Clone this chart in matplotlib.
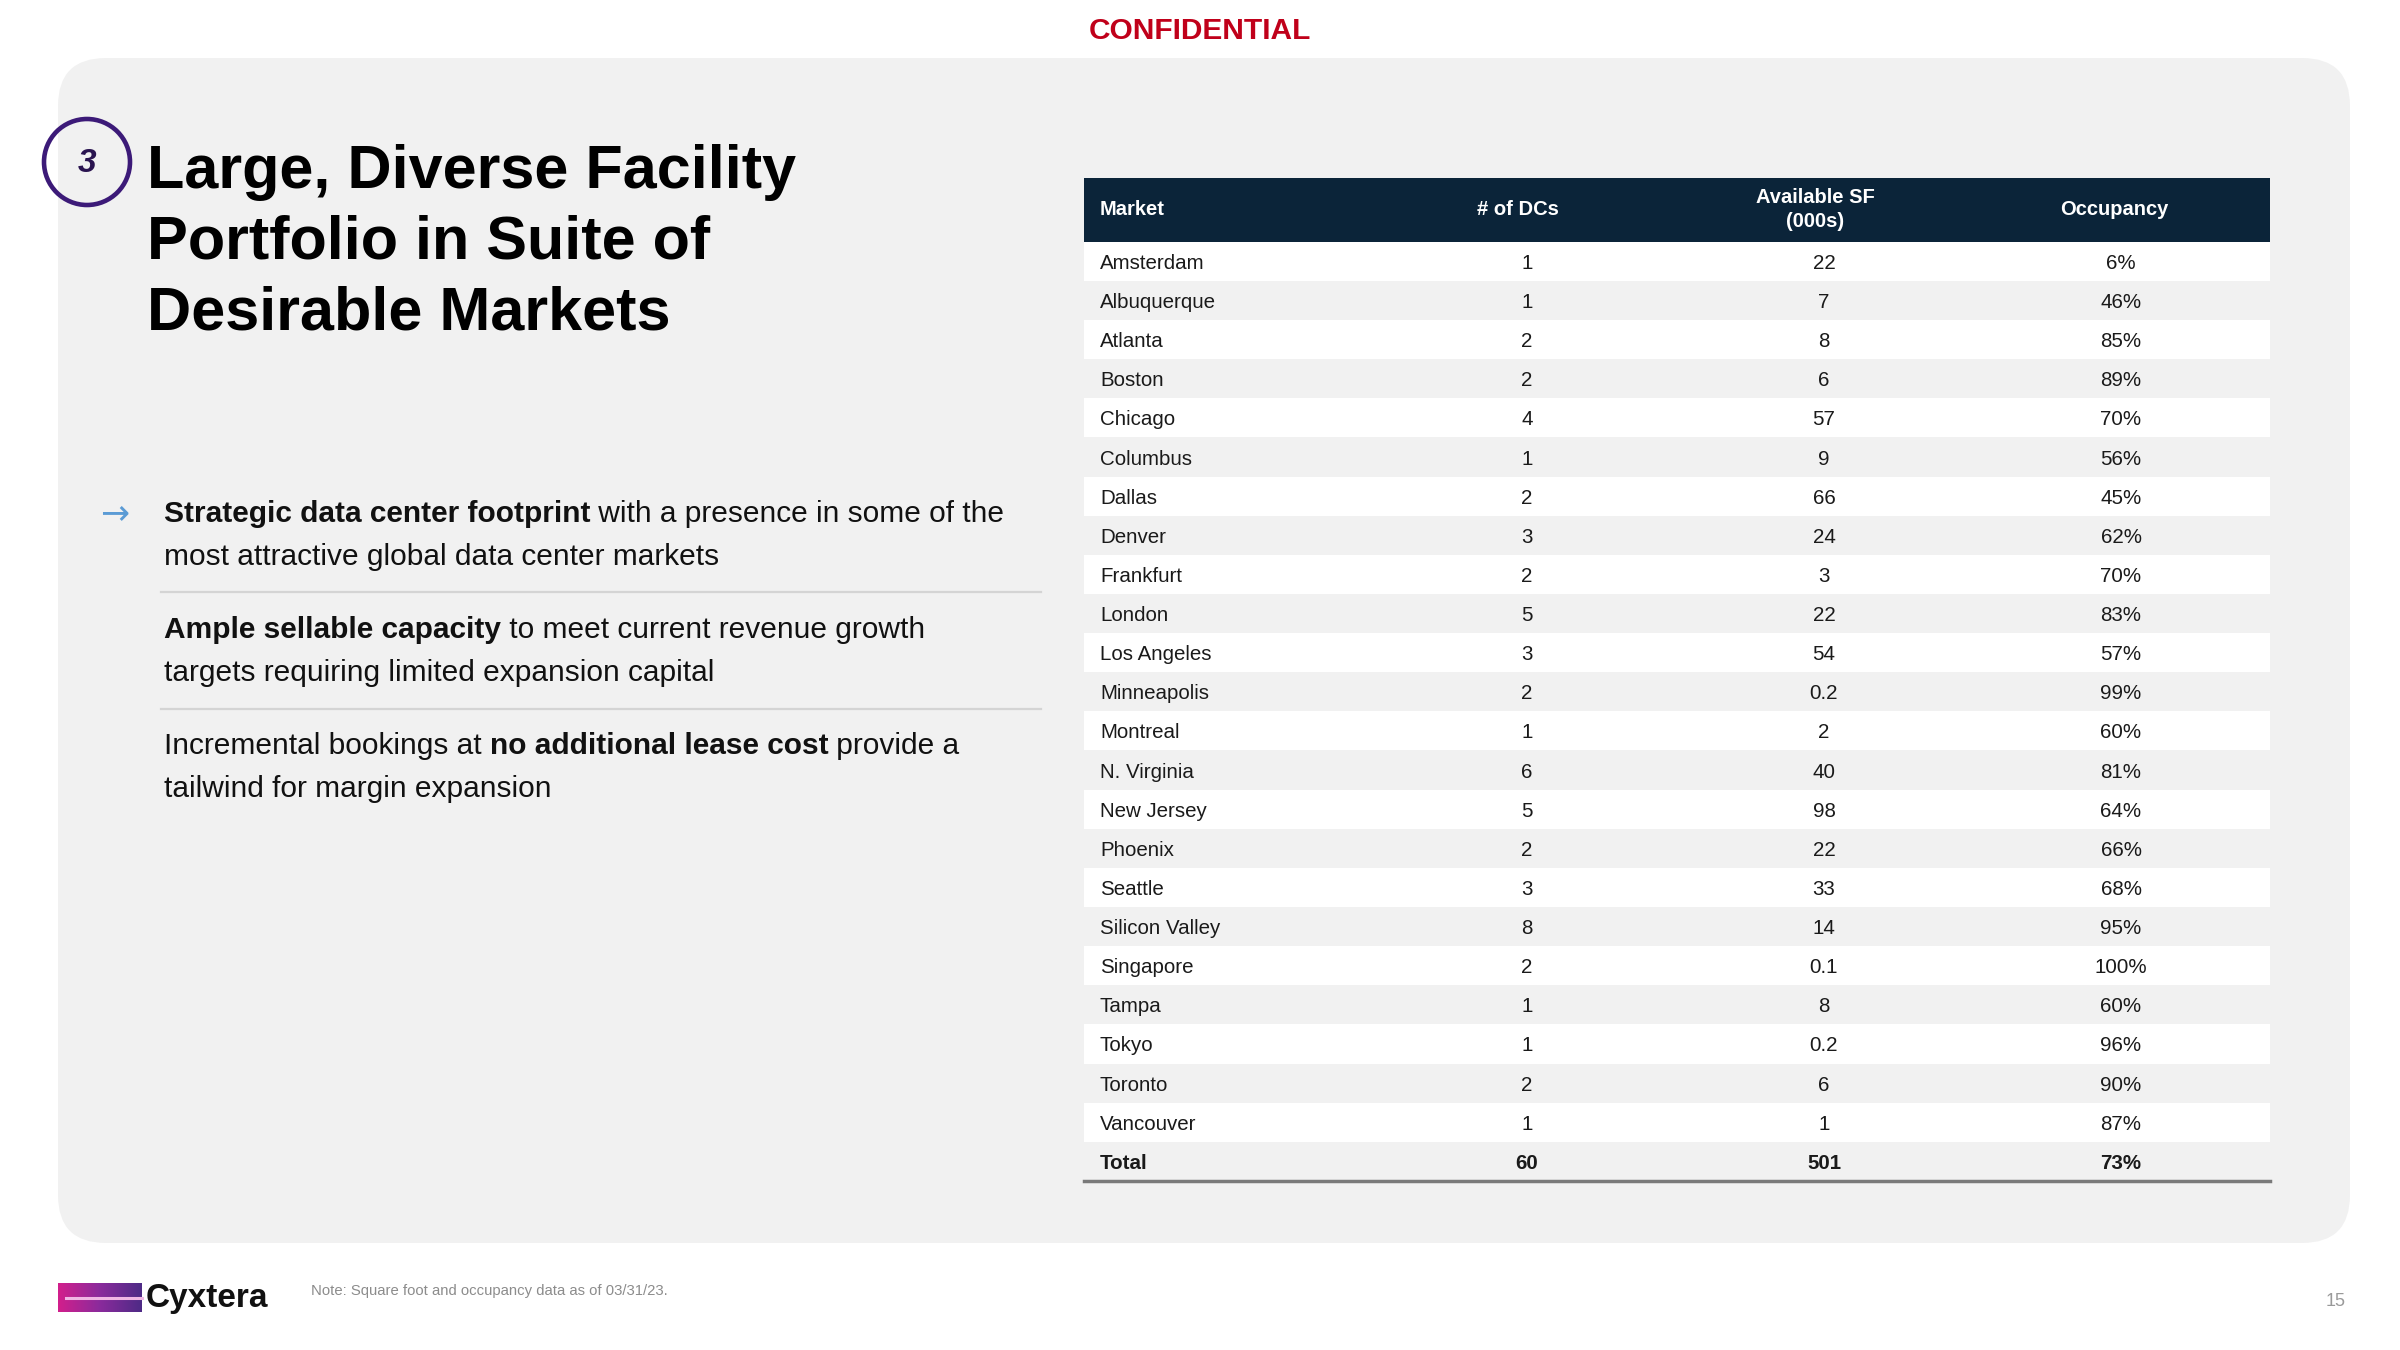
import matplotlib
matplotlib.use("Agg")
import matplotlib.pyplot as plt
from matplotlib.patches import FancyBboxPatch, Rectangle, Circle
import numpy as np

plt.rcParams['font.family'] = ['Liberation Sans', 'DejaVu Sans']

# table data
markets = ["Amsterdam", "Albuquerque", "Atlanta", "Boston", "Chicago", "Columbus",
           "Dallas", "Denver", "Frankfurt", "London", "Los Angeles", "Minneapolis",
           "Montreal", "N. Virginia", "New Jersey", "Phoenix", "Seattle",
           "Silicon Valley", "Singapore", "Tampa", "Tokyo", "Toronto", "Vancouver"]
dcs = [1, 1, 2, 2, 4, 1, 2, 3, 2, 5, 3, 2, 1, 6, 5, 2, 3, 8, 2, 1, 1, 2, 1]
avail_sf = [22, 7, 8, 6, 57, 9, 66, 24, 3, 22, 54, 0.2, 2, 40, 98, 22, 33, 14,
            0.1, 8, 0.2, 6, 1]
occupancy = [6, 46, 85, 89, 70, 56, 45, 62, 70, 83, 57, 99, 60, 81, 64, 66, 68,
             95, 100, 60, 96, 90, 87]
total = ["Total", 60, 501, 73]
headers = ["Market", "# of DCs", "Available SF\n(000s)", "Occupancy"]

title_lines = ["Large, Diverse Facility", "Portfolio in Suite of", "Desirable Markets"]
bullets = [
    [[("Strategic data center footprint", "bold"), (" with a presence in some of the", "normal")],
     [("most attractive global data center markets", "normal")]],
    [[("Ample sellable capacity", "bold"), (" to meet current revenue growth", "normal")],
     [("targets requiring limited expansion capital", "normal")]],
    [[("Incremental bookings at ", "normal"), ("no additional lease cost", "bold"), (" provide a", "normal")],
     [("tailwind for margin expansion", "normal")]],
]
note = "Note: Square foot and occupancy data as of 03/31/23."

fig = plt.figure(figsize=(24, 13.5), dpi=100)
ax = fig.add_axes([0, 0, 1, 1])
ax.set_xlim(0, 2400)
ax.set_ylim(1350, 0)
ax.axis("off")

# background panel
ax.add_patch(FancyBboxPatch((58, 58), 2292, 1185,
                            boxstyle="round,pad=0,rounding_size=48",
                            fc="#F1F1F1", ec="none", zorder=0))

ax.text(1200, 31, "CONFIDENTIAL", color="#C0001A", fontsize=21.5,
        fontweight="bold", ha="center", va="center")

# section number + title
ax.add_patch(Circle((87, 162), 43, fc="none", ec="#3C1A78", lw=3.3, zorder=2))
ax.text(87, 163, "3", fontsize=24, fontweight="bold", style="italic",
        color="#2A1450", ha="center", va="center")
for i, line in enumerate(title_lines):
    ax.text(147, 188 + i * 70.5, line, fontsize=44, fontweight="bold",
            color="black", va="baseline")

# bullets
renderer = fig.canvas.get_renderer()
baselines = [[522, 565], [638, 681], [754, 797]]
ax.text(115, 513, "\u2192", family="DejaVu Sans", fontsize=25, color="#5B9BD5",
        ha="center", va="center")
for b, lines in enumerate(bullets):
    for l, segs in enumerate(lines):
        x = 164
        for txt, w in segs:
            t = ax.text(x, baselines[b][l], txt, fontsize=21.5, fontweight=w,
                        color="#111111", va="baseline")
            x += t.get_window_extent(renderer).width
for y in [592, 709]:
    ax.plot([161, 1041], [y, y], color="#D4D4D4", lw=1.6)

# table
tx0, tx1 = 1084, 2270
head_top, head_bot = 177.5, 241.8
row_h = 39.13
col_x = [1100, 1527, 1824, 2121]
head_x = [1100, 1518, 1815, 2114]

ax.add_patch(Rectangle((tx0, head_top), tx1 - tx0, head_bot - head_top,
                       fc="#0B2439", ec="none"))
for j, h in enumerate(headers):
    ax.text(head_x[j], (head_top + head_bot) / 2, h, color="white", fontsize=14.5,
            fontweight="bold", ha="left" if j == 0 else "center", va="center",
            linespacing=1.35)

rows = [[m, str(d), f"{a:g}", f"{o}%"] for m, d, a, o in zip(markets, dcs, avail_sf, occupancy)]
rows.append([total[0], str(total[1]), str(total[2]), f"{total[3]}%"])
for i, row in enumerate(rows):
    top = head_bot + i * row_h
    if i % 2 == 0:
        ax.add_patch(Rectangle((tx0, top), tx1 - tx0, row_h, fc="white", ec="none"))
    bold = i == len(rows) - 1
    for j, val in enumerate(row):
        ax.text(col_x[j], top + row_h / 2, val, fontsize=14.8,
                fontweight="bold" if bold else "normal", color="#1A1A1A",
                ha="left" if j == 0 else "center", va="center_baseline")
bottom = head_bot + len(rows) * row_h
ax.plot([tx0, tx1], [bottom, bottom], color="#7A7A7A", lw=2.5)

# footer logo
grad = np.linspace(0, 1, 200)[None, :]
cmap = matplotlib.colors.LinearSegmentedColormap.from_list("cx", ["#D21F8C", "#8A2B9C", "#4E2A86"])
ax.imshow(grad, cmap=cmap, extent=(58, 142, 1312, 1283), aspect="auto", zorder=3)
ax.plot([66, 142], [1297.5, 1297.5], color="#F0B6E4", lw=2.2, zorder=4)
ax.text(146, 1298, "Cyxtera", fontsize=24, fontweight="bold", color="#111111",
        va="center")
ax.text(311, 1291, note, fontsize=10.7, color="#8C8C8C", va="center")
ax.text(2336, 1301, "15", fontsize=13, color="#9A9A9A", ha="center", va="center")

fig.savefig("out.png", dpi=100)
